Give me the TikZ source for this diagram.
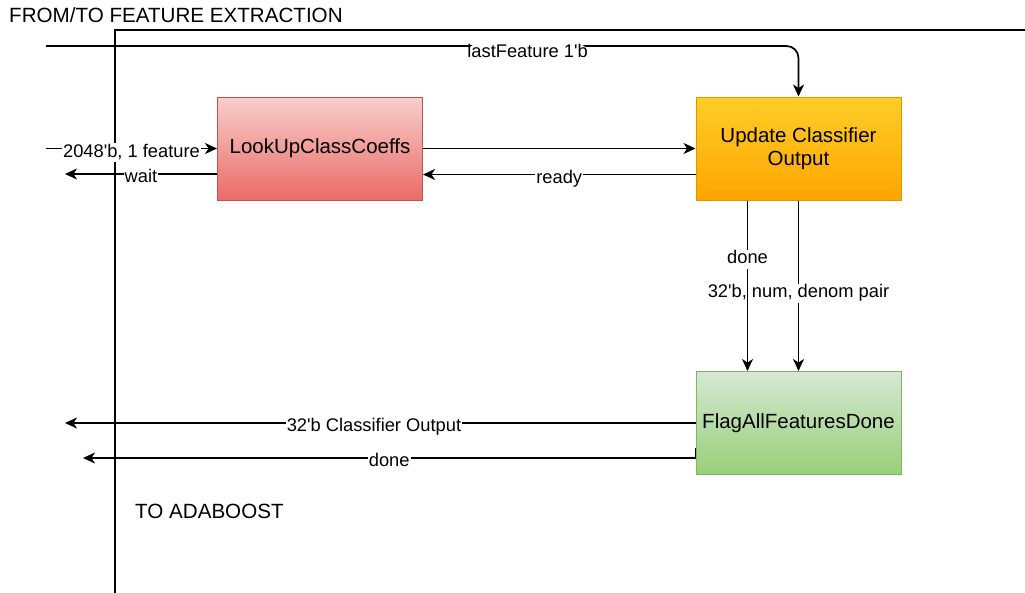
\documentclass[tikz,border=0pt]{standalone}
\usepackage{fontspec}
\setmainfont{Liberation Sans}
\usetikzlibrary{positioning}
\usetikzlibrary{arrows.meta}

\definecolor{lookuptop}{HTML}{F8CECC}
\definecolor{lookupbot}{HTML}{EA6B66}
\definecolor{lookupline}{HTML}{B85450}
\definecolor{updatetop}{HTML}{FFCD28}
\definecolor{updatebot}{HTML}{FFA500}
\definecolor{updateline}{HTML}{D79B00}
\definecolor{flagtop}{HTML}{D5E8D4}
\definecolor{flagbot}{HTML}{97D077}
\definecolor{flagline}{HTML}{82B366}

\begin{document}
\begin{tikzpicture}[x=1pt,y=-1pt]
\tikzstyle{block}=[draw,line width=1pt,minimum width=205pt,minimum height=103pt,align=center,font=\fontsize{20.5}{23}\selectfont]
\tikzstyle{signal}=[line width=1.7pt,-{Stealth[length=12pt,width=11pt,inset=3.5pt]}]
\tikzstyle{lbl}=[fill=white,inner sep=1pt,text height=13pt,text depth=4pt,yshift=-4pt,font=\fontsize{18.3}{22}\selectfont]
\tikzstyle{caption}=[anchor=west,inner sep=0pt,font=\fontsize{20.6}{24}\selectfont]
\useasboundingbox (0,0) rectangle (1025,592);
\clip (0,0) rectangle (1025,592);
%%%%%%%%%%%%%%%%%%%%%%%%%%%%%%%%%%%%%%%%%%%%%%%%%%%%%%%%%%%%%%%%%%%%%%%%%%%%%%%%%%%%%%%%
%% Draw Blocks
%%%%%%%%%%%%%%%%%%%%%%%%%%%%%%%%%%%%%%%%%%%%%%%%%%%%%%%%%%%%%%%%%%%%%%%%%%%%%%%%%%%%%%%%
% outer frame
\draw[line width=1.7pt] (115,600) -- (115,30) -- (1040,30);
\node[caption] (fromto) at (9,15) {FROM/TO FEATURE EXTRACTION};
\node[caption] (toada) at (135,511) {TO ADABOOST};

\node[block,draw=lookupline,top color=lookuptop,bottom color=lookupbot] (lookup) at (320,148.5) {LookUpClassCoeffs};
\node[block,draw=updateline,top color=updatetop,bottom color=updatebot] (update) at (798.5,148.5) {Update Classifier\\Output};
\node[block,draw=flagline,top color=flagtop,bottom color=flagbot] (flag) at (798.5,423) {FlagAllFeaturesDone};
%%%%%%%%%%%%%%%%%%%%%%%%%%%%%%%%%%%%%%%%%%%%%%%%%%%%%%%%%%%%%%%%%%%%%%%%%%%%%%%%%%%%%%%%

%%%%%%%%%%%%%%%%%%%%%%%%%%%%%%%%%%%%%%%%%%%%%%%%%%%%%%%%%%%%%%%%%%%%%%%%%%%%%%%%%%%%%%%%
%%% Draw connections
%%%%%%%%%%%%%%%%%%%%%%%%%%%%%%%%%%%%%%%%%%%%%%%%%%%%%%%%%%%%%%%%%%%%%%%%%%%%%%%%%%%%%%%%
\coordinate (lastin) at (46,46);
\coordinate (featin) at (46,148.5);
\coordinate (waitout) at (65,174);
\coordinate (clsout) at (65,423);
\coordinate (doneout) at (83,458);

\draw[signal,rounded corners=12pt] (lastin) -- node[lbl,pos=0.64,yshift=-3pt]{lastFeature 1\textquotesingle b} (update.north |- lastin) -- (update.north);
\draw[signal] (featin) -- node[lbl]{2048\textquotesingle b, 1 feature} (lookup.west |- featin);
\draw[signal] (lookup.west |- waitout) -- node[lbl]{wait} (waitout);
\draw[signal] (lookup.east) -- (update.west);
\draw[signal] ([yshift=-26pt]update.west) -- node[lbl]{ready} ([yshift=-26pt]lookup.east);

\draw[signal] (update.south) -- node[lbl,pos=0.52]{32\textquotesingle b, num, denom pair} (flag.north);
\draw[signal] ([xshift=-51pt]update.south) -- node[lbl,pos=0.32]{done} ([xshift=-51pt]flag.north);

\draw[signal] (flag.west) -- node[lbl,pos=0.51]{32\textquotesingle b Classifier Output} (clsout);
\draw[signal] ([yshift=-25pt]flag.west) -- ++(0,10) -- node[lbl]{done} (doneout);
%%%%%%%%%%%%%%%%%%%%%%%%%%%%%%%%%%%%%%%%%%%%%%%%%%%%%%%%%%%%%%%%%%%%%%%%%%%%%%%%%%%%%%%%

\end{tikzpicture}
\end{document}
